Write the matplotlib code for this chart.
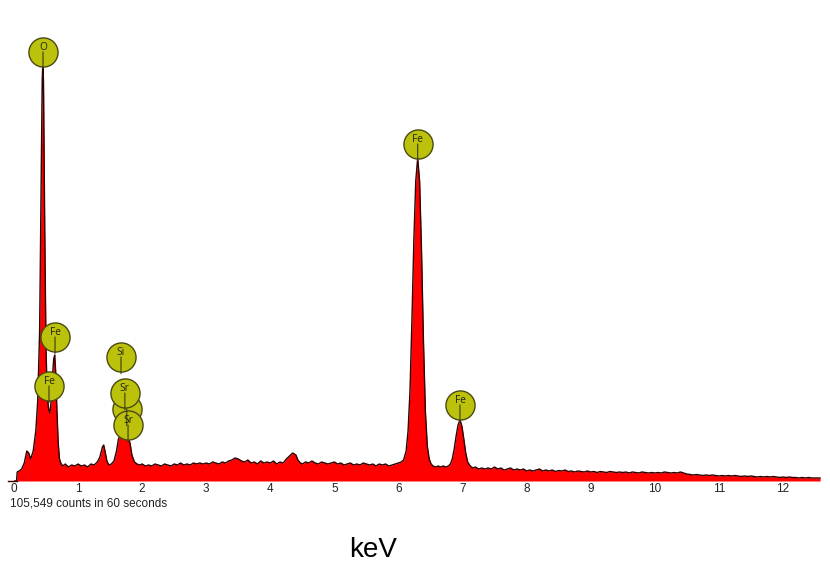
import matplotlib
matplotlib.use("Agg")
import matplotlib.pyplot as plt

# ---- spectrum data (energy keV, counts) ----
energy_keV = [
    0.00, 0.04, 0.05, 0.08, 0.12, 0.16, 0.20, 0.23, 0.26, 0.30, 0.34, 0.37, 0.40, 0.42, 0.44, 0.45,
    0.46, 0.48, 0.50, 0.52, 0.54, 0.56, 0.58, 0.60, 0.62, 0.635, 0.65, 0.67, 0.69, 0.71, 0.73,
    0.76, 0.80, 0.85, 0.90, 0.95, 1.00, 1.05, 1.10, 1.15, 1.20, 1.25, 1.30, 1.34, 1.38, 1.40,
    1.42, 1.45, 1.48, 1.52, 1.56, 1.60, 1.63, 1.66, 1.70, 1.74, 1.78, 1.81, 1.84, 1.88, 1.92,
    1.96, 2.00, 2.05, 2.10, 2.15, 2.20, 2.25, 2.30, 2.35, 2.40, 2.45, 2.50, 2.55, 2.60, 2.65,
    2.70, 2.75, 2.80, 2.85, 2.90, 2.95, 3.00, 3.05, 3.10, 3.15, 3.20, 3.25, 3.30, 3.35, 3.40,
    3.45, 3.50, 3.55, 3.60, 3.65, 3.70, 3.75, 3.80, 3.85, 3.90, 3.95, 4.00, 4.05, 4.10, 4.15,
    4.20, 4.25, 4.30, 4.35, 4.40, 4.43, 4.47, 4.50, 4.55, 4.60, 4.65, 4.70, 4.75, 4.80, 4.85,
    4.90, 4.95, 5.00, 5.05, 5.10, 5.15, 5.20, 5.25, 5.30, 5.35, 5.40, 5.45, 5.50, 5.55, 5.60,
    5.65, 5.70, 5.75, 5.80, 5.85, 5.90, 5.95, 6.00, 6.04, 6.08, 6.12, 6.15, 6.18, 6.21, 6.24,
    6.27, 6.30, 6.33, 6.36, 6.39, 6.42, 6.45, 6.48, 6.51, 6.54, 6.58, 6.62, 6.66, 6.70, 6.74,
    6.78, 6.81, 6.84, 6.87, 6.90, 6.93, 6.96, 6.99, 7.02, 7.05, 7.08, 7.12, 7.16, 7.20, 7.25,
    7.30, 7.35, 7.40, 7.45, 7.50, 7.55, 7.60, 7.65, 7.70, 7.75, 7.80, 7.85, 7.90, 7.95, 8.00,
    8.05, 8.10, 8.15, 8.20, 8.25, 8.30, 8.35, 8.40, 8.45, 8.50, 8.55, 8.60, 8.65, 8.70, 8.75,
    8.80, 8.85, 8.90, 8.95, 9.00, 9.05, 9.10, 9.15, 9.20, 9.25, 9.30, 9.35, 9.40, 9.45, 9.50,
    9.55, 9.60, 9.65, 9.70, 9.75, 9.80, 9.85, 9.90, 9.95, 10.00, 10.05, 10.10, 10.15, 10.20,
    10.25, 10.30, 10.35, 10.40, 10.45, 10.50, 10.55, 10.60, 10.65, 10.70, 10.75, 10.80, 10.85,
    10.90, 10.95, 11.00, 11.05, 11.10, 11.15, 11.20, 11.25, 11.30, 11.35, 11.40, 11.45, 11.50,
    11.55, 11.60, 11.65, 11.70, 11.75, 11.80, 11.85, 11.90, 11.95, 12.00, 12.05, 12.10, 12.15,
    12.20, 12.25, 12.30, 12.35, 12.40, 12.45, 12.50, 12.55, 12.58,
]
counts = [
    0, 0, 90, 100, 120, 180, 300, 280, 220, 300, 500, 800, 1500, 2800, 4000, 4190,
    4000, 2500, 1300, 850, 720, 680, 800, 1050, 1220, 1260, 1100, 700, 380, 220, 180,
    150, 170, 140, 160, 150, 170, 150, 160, 140, 170, 160, 190, 240, 340, 360,
    300, 200, 160, 170, 200, 300, 420, 460, 470, 450, 440, 380, 260, 190, 170,
    160, 170, 150, 160, 150, 170, 160, 150, 170, 160, 150, 170, 160, 180, 160,
    170, 160, 180, 170, 180, 170, 180, 170, 190, 180, 170, 190, 180, 200, 210,
    230, 220, 200, 190, 210, 180, 190, 170, 200, 180, 190, 180, 200, 170, 190,
    180, 220, 250, 280, 260, 210, 180, 170, 190, 180, 200, 180, 170, 190, 180,
    170, 180, 190, 170, 180, 160, 170, 180, 160, 170, 160, 180, 170, 160, 170,
    150, 170, 160, 170, 150, 160, 170, 180, 190, 210, 300, 500, 900, 1600, 2400,
    3000, 3230, 3000, 2300, 1400, 700, 350, 220, 170, 150, 140, 150, 140, 150, 140,
    150, 170, 220, 320, 450, 560, 610, 550, 420, 280, 190, 150, 130, 140, 120,
    130, 120, 130, 120, 140, 120, 130, 110, 120, 130, 110, 120, 110, 120, 100,
    110, 100, 110, 120, 100, 110, 100, 110, 95, 105, 100, 110, 95, 100, 90,
    100, 95, 90, 100, 90, 95, 85, 95, 90, 85, 95, 90, 85, 90, 85,
    90, 80, 90, 85, 80, 90, 85, 80, 85, 80, 85, 80, 90, 85,
    80, 85, 80, 90, 80, 70, 65, 60, 65, 60, 55, 60, 55,
    60, 55, 50, 55, 50, 55, 50, 55, 50, 45, 50, 45, 50,
    45, 40, 45, 40, 45, 40, 45, 40, 35, 40, 35, 40, 35,
    35, 30, 35, 30, 35, 30, 30, 30, 30,
]

# ---- element markers ----
marker_labels = ["Sr", "O", "Fe", "Fe", "Si", "Sr", "Sr", "Fe", "Fe"]
marker_energy = [1.76, 0.453, 0.64, 0.546, 1.67, 1.73, 1.78, 6.30, 6.96]
marker_height = [720, 4290, 1440, 950, 1240, 880, 560, 3370, 760]
marker_show_text = [False, True, True, True, True, True, True, True, True]

x_ticks = list(range(0, 13))
counts_text = "105,549 counts in 60 seconds"
x_label = "keV"

W, H = 830, 564
fig = plt.figure(figsize=(W / 100, H / 100), dpi=100)
ax = fig.add_axes([14 / W, (H - 481) / H, 808 / W, 451 / H])
ax.set_xlim(0, 12.61)
ax.set_ylim(0, 4510)

ax.fill_between(energy_keV, counts, 0, color="#ff0000", linewidth=0, zorder=2)
ax.plot(energy_keV, counts, color="#2e0000", linewidth=1.0, zorder=3)
ax.plot([-0.1, 0.05], [0, 0], color="#3d0000", linewidth=1.0, zorder=3, clip_on=False)

for lab, e, h, show in zip(marker_labels, marker_energy, marker_height, marker_show_text):
    ax.scatter([e], [h], s=440, color="#bcc20c", edgecolors="#4a4a10", linewidths=1.0,
               zorder=5, clip_on=False)
    ax.annotate("", xy=(e, h), xytext=(0, -12), textcoords="offset points",
                arrowprops=dict(arrowstyle="-", color="#3a3a10", lw=0.8,
                                shrinkA=0, shrinkB=0),
                zorder=6, annotation_clip=False)
    if show:
        ax.annotate(lab, xy=(e, h), xytext=(0, 3), textcoords="offset points",
                    ha="center", va="center", fontsize=7.3, color="#2a2a10",
                    family="Noto Sans", zorder=7, annotation_clip=False)

for s in ax.spines.values():
    s.set_visible(False)
ax.set_yticks([])
ax.set_xticks(x_ticks)
ax.set_xticklabels([str(t) for t in x_ticks], family="Liberation Sans", fontsize=8.5,
                   color="#222222")
ax.tick_params(axis="x", length=0, pad=1.5)

fig.text(10 / W, 1 - 504 / H, counts_text, ha="left", va="center",
         family="Liberation Sans", fontsize=8.5, color="#222222")
fig.text(373 / W, 1 - 550 / H, x_label, ha="center", va="center",
         family="Liberation Sans", fontsize=20, color="#000000")

fig.savefig("out.png", dpi=100, facecolor="white")
